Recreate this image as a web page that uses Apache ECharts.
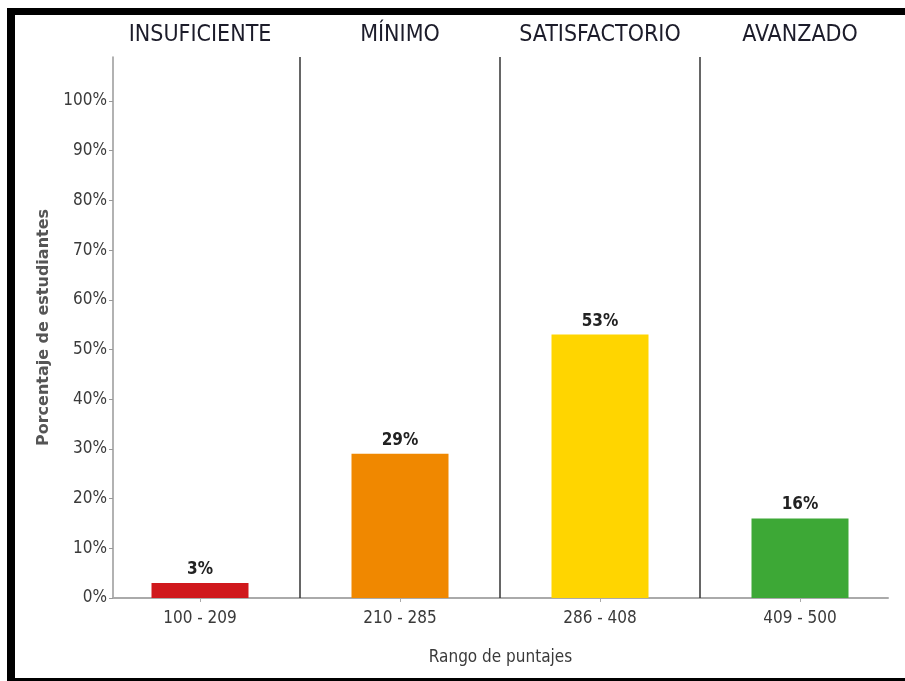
<!DOCTYPE html>
<html>
<head>
<meta charset="utf-8">
<script src="https://cdn.jsdelivr.net/npm/echarts@6/dist/echarts.min.js"></script>
<style>
  html, body { margin: 0; padding: 0; background: #fff; }
  #chart { width: 905px; height: 681px; }
  #frame {
    position: absolute; left: 7px; top: 8px; width: 898px; height: 673px;
    box-sizing: border-box; border-top: 7px solid #000; border-left: 8px solid #000;
    border-bottom: 3px solid #000; pointer-events: none;
  }
</style>
</head>
<body>
<div id="chart"></div>
<div id="frame"></div>
<script>
// datos
var rangos = ['100 - 209', '210 - 285', '286 - 408', '409 - 500'];
var niveles = ['INSUFICIENTE', 'MÍNIMO', 'SATISFACTORIO', 'AVANZADO'];
var porcentajes = [3, 29, 53, 16];
var colores = ['#d0181c', '#f08800', '#ffd500', '#3da836'];
var yTicks = [0, 10, 20, 30, 40, 50, 60, 70, 80, 90, 100];
var separadores = [0.5, 1.5, 2.5];

var narrow = "'Liberation Sans Narrow', 'DejaVu Sans Condensed', sans-serif";
var posiciones = rangos.map(function (r, i) { return i; });

var barData = porcentajes.map(function (v, i) {
    return { value: [i, v], itemStyle: { color: colores[i] } };
});

var option = {
    animation: false,
    grid: { left: 113, right: 17, top: 57, bottom: 83 },
    xAxis: [{
        type: 'value',
        min: -0.435,
        max: 3.44,
        name: 'Rango de puntajes',
        nameLocation: 'middle',
        nameGap: 51,
        nameTextStyle: { fontFamily: narrow, fontSize: 17, color: '#3a3a3a' },
        axisLine: { show: true, onZero: false, lineStyle: { color: '#aaa', width: 2 } },
        axisTick: { show: true, customValues: posiciones, length: 4, lineStyle: { color: '#aaa' } },
        axisLabel: {
            customValues: posiciones,
            margin: 12,
            fontFamily: narrow, fontSize: 17, color: '#3a3a3a',
            formatter: function (v) { return rangos[Math.round(v)]; }
        },
        splitLine: { show: false }
    }, {
        type: 'value',
        position: 'top',
        min: -0.435,
        max: 3.44,
        axisLine: { show: false },
        axisTick: { show: false },
        axisLabel: {
            customValues: posiciones,
            margin: 10,
            fontFamily: narrow, fontSize: 23, color: '#1c1c2a',
            formatter: function (v) { return niveles[Math.round(v)]; }
        },
        splitLine: { show: false }
    }],
    yAxis: {
        type: 'value',
        min: 0,
        max: 108.85,
        name: 'Porcentaje de estudiantes',
        nameLocation: 'middle',
        nameRotate: 90,
        nameGap: 61,
        nameTextStyle: { fontFamily: "'DejaVu Sans', sans-serif", fontSize: 16, fontWeight: 'bold', color: '#555' },
        axisLine: { show: true, onZero: false, lineStyle: { color: '#999', width: 1.5 } },
        axisTick: { show: true, customValues: yTicks, length: 4, lineStyle: { color: '#999' } },
        axisLabel: {
            customValues: yTicks,
            margin: 6,
            fontFamily: narrow, fontSize: 17, color: '#3a3a3a',
            formatter: function (v) { return v + '%'; }
        },
        splitLine: { show: false }
    },
    series: [{
        type: 'bar',
        xAxisIndex: 0,
        barWidth: 97,
        data: barData,
        label: {
            show: true,
            position: 'top',
            distance: 5,
            fontFamily: narrow, fontSize: 17, fontWeight: 'bold', color: '#222',
            formatter: function (p) { return p.value[1] + '%'; }
        },
        markLine: {
            silent: true,
            symbol: 'none',
            label: { show: false },
            lineStyle: { color: '#333', width: 1.5, type: 'solid' },
            data: separadores.map(function (x) { return { xAxis: x }; })
        }
    }]
};

var myChart = echarts.init(document.getElementById('chart'));
myChart.setOption(option);
</script>
</body>
</html>
